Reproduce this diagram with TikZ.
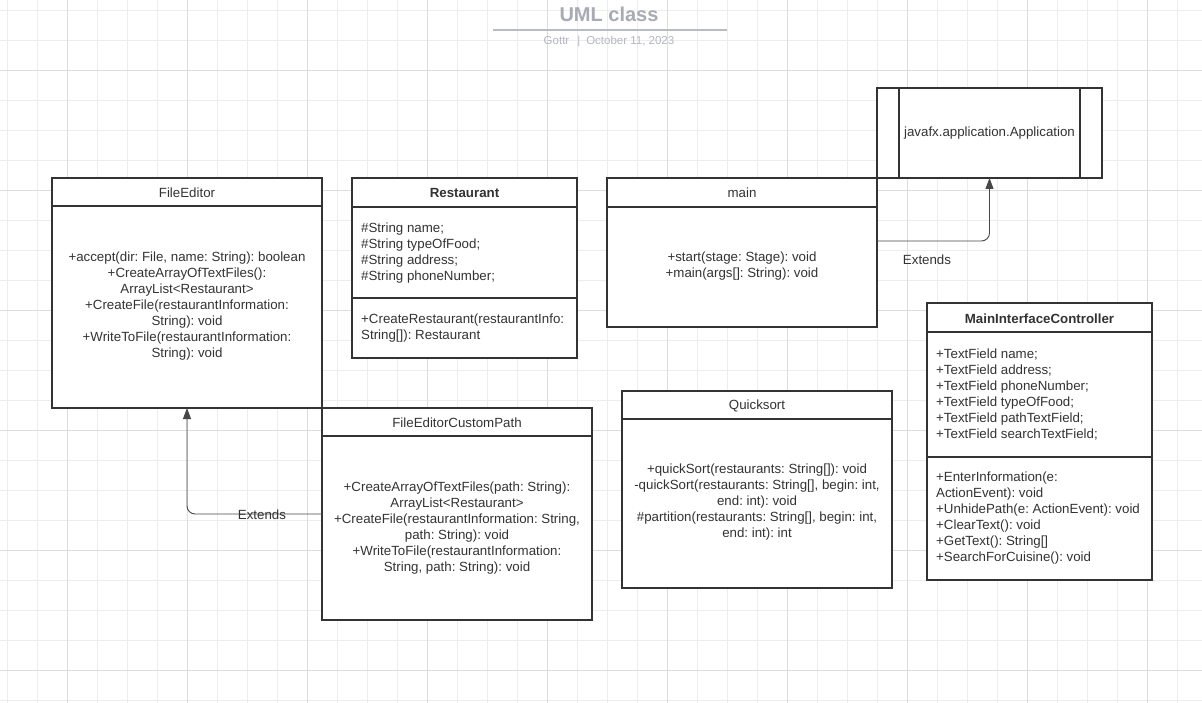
\documentclass[tikz,border=0pt]{standalone}
\usepackage{fontspec}
\setmainfont{Liberation Sans}
\usetikzlibrary{arrows.meta}
\definecolor{ink}{HTML}{333333}
\definecolor{minorg}{HTML}{EDEDED}
\definecolor{majorg}{HTML}{DDDDDD}
\definecolor{titleg}{HTML}{A7ACB4}
\definecolor{subg}{HTML}{B3B7BE}
\tikzset{
  minorgrid/.style={draw=minorg, line width=0.8pt},
  majorgrid/.style={draw=majorg, line width=0.8pt},
  classbox/.style={draw=ink, line width=1.3pt, fill=white, inner sep=0pt, outer sep=0pt, anchor=north west},
  divider/.style={draw=ink, line width=1.3pt},
  body/.style={text=ink, font=\frenchspacing\fontsize{13.3pt}{16pt}\selectfont, align=center, inner sep=0pt, yshift=-1.5pt},
  leftbody/.style={body, align=left, anchor=west},
  headbold/.style={body, font=\frenchspacing\fontsize{13.3pt}{16pt}\selectfont\bfseries},
  ext/.style={draw=ink!90, line width=0.9pt, rounded corners=8pt, -{Triangle[length=11pt,width=8pt]}},
  lbl/.style={text=ink, font=\fontsize{13.3pt}{16pt}\selectfont, inner sep=0pt, yshift=-1pt}
}
\begin{document}
\begin{tikzpicture}[x=1pt,y=-1pt]
\useasboundingbox (0,0) rectangle (1202,703);
\fill[white] (0,0) rectangle (1202,703);
% grid
\foreach \x in {7,37,...,1200} \draw[minorgrid] (\x,0) -- (\x,703);
\foreach \y in {10,40,...,700} \draw[minorgrid] (0,\y) -- (1202,\y);
\foreach \x in {67,187,...,1200} \draw[majorgrid] (\x,0) -- (\x,703);
\foreach \y in {70,190,...,700} \draw[majorgrid] (0,\y) -- (1202,\y);

% title
\node[text=titleg, font=\fontsize{20pt}{24pt}\selectfont\bfseries, inner sep=0pt] (title) at (609,14) {UML class};
\draw[draw=titleg!80, line width=2pt] (493,30) -- (727,30);
\node[text=subg, font=\fontsize{11.5pt}{14pt}\selectfont, inner sep=0pt] (sub) at (609,41.5) {Gottr\hspace{8pt}|\hspace{6pt}October 11, 2023};

% boxes
\node[classbox, minimum width=270pt, minimum height=230pt] (fe) at (52,178) {};
\node[classbox, minimum width=225pt, minimum height=180pt] (rest) at (352,178) {};
\node[classbox, minimum width=270pt, minimum height=149pt] (main) at (607,178) {};
\node[classbox, minimum width=225pt, minimum height=90pt] (app) at (877,88) {};
\node[classbox, minimum width=270pt, minimum height=212pt] (fecp) at (322,408) {};
\node[classbox, minimum width=270pt, minimum height=197pt] (qs) at (622,391) {};
\node[classbox, minimum width=225pt, minimum height=277pt] (mic) at (927,303) {};

% dividers
\draw[divider] ([yshift=-28pt]fe.north west) -- ([yshift=-28pt]fe.north east);
\draw[divider] ([yshift=-29pt]rest.north west) -- ([yshift=-29pt]rest.north east);
\draw[divider] ([yshift=-120pt]rest.north west) -- ([yshift=-120pt]rest.north east);
\draw[divider] ([yshift=-29pt]main.north west) -- ([yshift=-29pt]main.north east);
\draw[divider] ([yshift=-28pt]fecp.north west) -- ([yshift=-28pt]fecp.north east);
\draw[divider] ([yshift=-28pt]qs.north west) -- ([yshift=-28pt]qs.north east);
\draw[divider] ([yshift=-29pt]mic.north west) -- ([yshift=-29pt]mic.north east);
\draw[divider] ([yshift=-154pt]mic.north west) -- ([yshift=-154pt]mic.north east);
\draw[divider] ([xshift=22pt]app.north west) -- ([xshift=22pt]app.south west);
\draw[divider] ([xshift=-22pt]app.north east) -- ([xshift=-22pt]app.south east);

% texts
\node[body] (feh) at (187,191) {FileEditor};
\node[body] (feb) at (187,305) {+accept(dir: File, name: String): boolean\\+CreateArrayOfTextFiles():\\ArrayList<Restaurant>\\+CreateFile(restaurantInformation:\\String): void\\+WriteToFile(restaurantInformation:\\String): void};

\node[headbold] (resth) at (464.5,191) {Restaurant};
\node[leftbody] (resta) at (361,252) {\#String name;\\\#String typeOfFood;\\\#String address;\\\#String phoneNumber;};
\node[leftbody] (restm) at (361,327) {+CreateRestaurant(restaurantInfo:\\String[]): Restaurant};

\node[body] (mainh) at (742,191) {main};
\node[body] (mainb) at (742,265) {+start(stage: Stage): void\\+main(args[]: String): void};

\node[body] (appt) at (989.5,132) {javafx.application.Application};

\node[body] (fecph) at (457,421) {FileEditorCustomPath};
\node[body] (fecpb) at (457,527) {+CreateArrayOfTextFiles(path: String):\\ArrayList<Restaurant>\\+CreateFile(restaurantInformation: String,\\path: String): void\\+WriteToFile(restaurantInformation:\\String, path: String): void};

\node[body] (qsh) at (757,404) {Quicksort};
\node[body] (qsb) at (757,501) {+quickSort(restaurants: String[]): void\\-quickSort(restaurants: String[], begin: int,\\end: int): void\\\#partition(restaurants: String[], begin: int,\\end: int): int};

\node[headbold] (mich) at (1039.5,317) {MainInterfaceController};
\node[leftbody] (mica) at (936,393) {+TextField name;\\+TextField address;\\+TextField phoneNumber;\\+TextField typeOfFood;\\+TextField pathTextField;\\+TextField searchTextField;};
\node[leftbody] (micm) at (936,517) {+EnterInformation(e:\\ActionEvent): void\\+UnhidePath(e: ActionEvent): void\\+ClearText(): void\\+GetText(): String[]\\+SearchForCuisine(): void};

% connectors
\draw[ext] ([yshift=11.5pt]main.east) -| (app.south);
\draw[ext] (fecp.west) -| (fe.south);
\node[lbl] (ext1) at (927,259) {Extends};
\node[lbl] (ext2) at (262,514) {Extends};
\end{tikzpicture}
\end{document}
